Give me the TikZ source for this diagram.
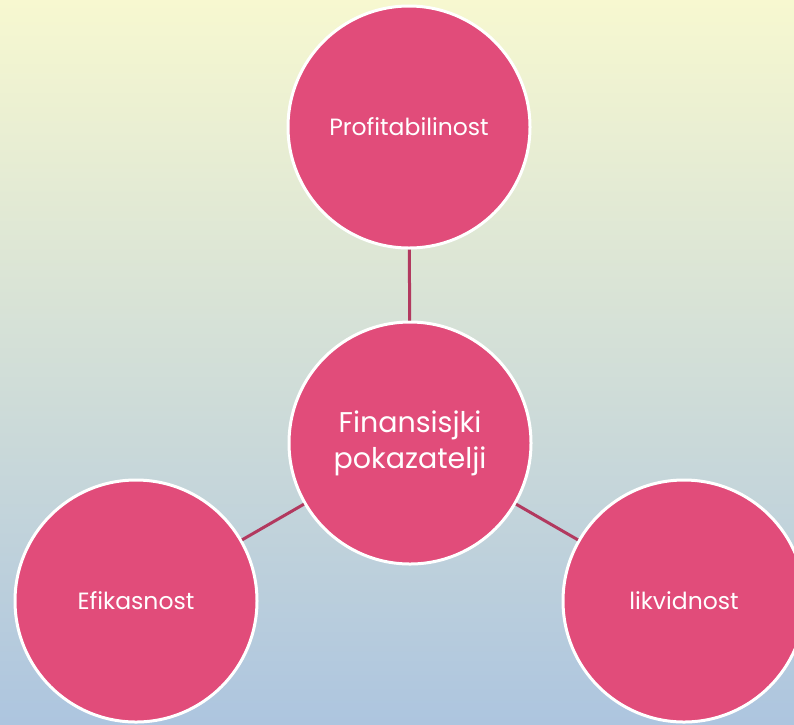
\documentclass[tikz,border=0pt]{standalone}
\usepackage{fontspec}
\setmainfont{Poppins}
\definecolor{bgtop}{HTML}{F7F8D0}
\definecolor{bgmid}{HTML}{DEE6D6}
\definecolor{bgbot}{HTML}{ADC5DF}
\definecolor{petal}{HTML}{E14C7A}
\definecolor{link}{HTML}{B2395F}
\begin{document}
\begin{tikzpicture}[x=1pt,y=-1pt,
  bubble/.style={circle, fill=petal, draw=white, line width=3pt, minimum size=242pt, inner sep=0pt, text=white, align=center},
  small/.style={font=\fontsize{23.5}{28}\selectfont},
  big/.style={font=\fontsize{28.5}{36}\selectfont},
  conn/.style={draw=link, line width=3pt}]
\shade[top color=bgtop, middle color=bgmid, bottom color=bgbot] (0,0) rectangle (794,724);
\useasboundingbox (0,0) rectangle (794,724);
\node[bubble, big] (c) at (410,443) {Finansisjki\\pokazatelji};
\node[bubble, small] (t) at (409,127) {Profitabilinost};
\node[bubble, small] (l) at (136,601) {Efikasnost};
\node[bubble, small] (r) at (684,601) {likvidnost};
\draw[conn] (c) -- (t);
\draw[conn] (c) -- (l);
\draw[conn] (c) -- (r);
\end{tikzpicture}
\end{document}
